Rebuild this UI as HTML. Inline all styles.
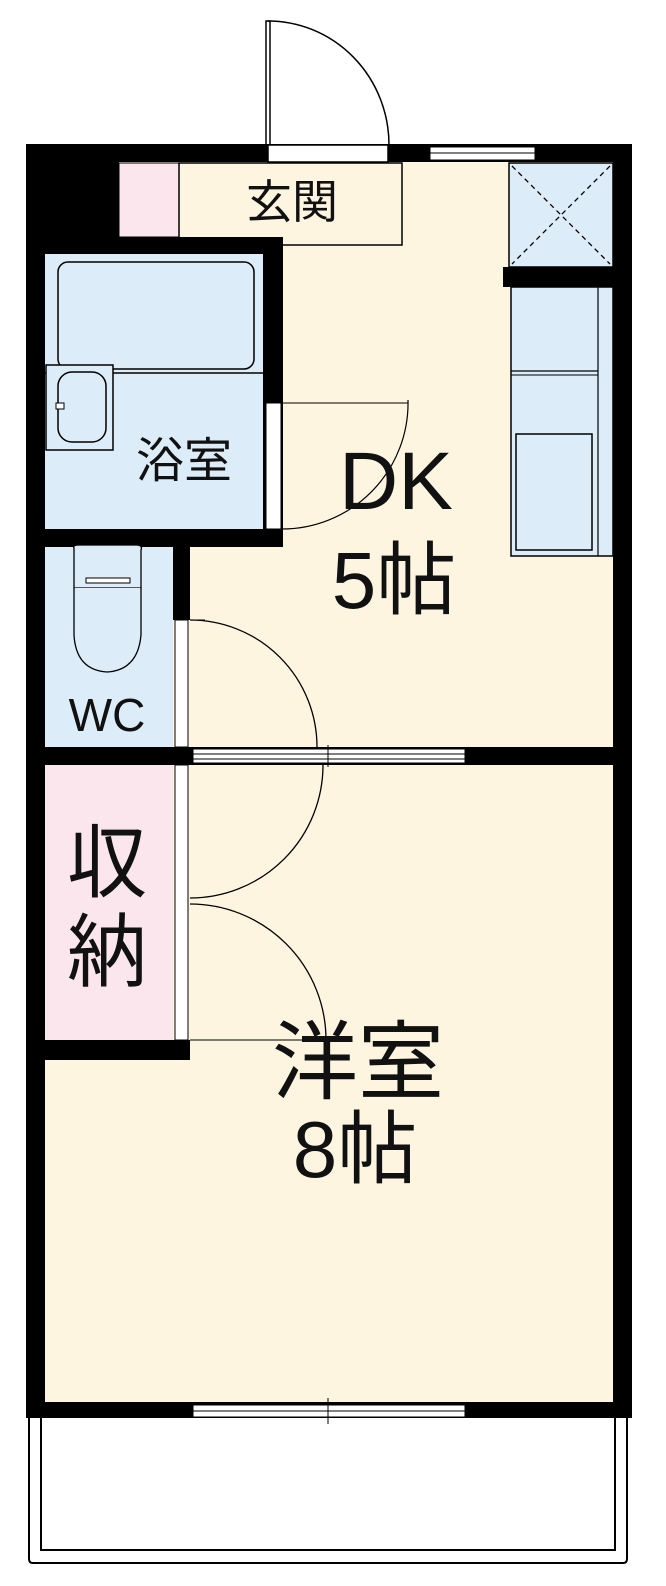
<!DOCTYPE html>
<html><head><meta charset="utf-8"><style>
html,body{margin:0;padding:0;background:#fff}
svg{display:block}
text{font-family:"Liberation Sans","Noto Sans CJK JP",sans-serif;fill:#111}
</style></head><body>
<svg width="666" height="1586" viewBox="0 0 666 1586" xmlns="http://www.w3.org/2000/svg">
<!-- floors -->
<rect x="45" y="162" width="568" height="1240" fill="#fdf5e0"/>
<!-- entry door -->
<rect x="266" y="21" width="4" height="124" fill="#fff" stroke="#000" stroke-width="1.5"/>
<path d="M268 21 A121 124 0 0 1 389 145" fill="none" stroke="#000" stroke-width="1.5"/>
<!-- outer walls -->
<rect x="26" y="144" width="606" height="18" fill="#000"/>
<rect x="26" y="144" width="19" height="1274" fill="#000"/>
<rect x="613" y="144" width="19" height="1274" fill="#000"/>
<rect x="26" y="1402" width="606" height="16" fill="#000"/>
<!-- top openings -->
<rect x="268" y="145" width="120" height="17" fill="#fff" stroke="#000" stroke-width="1.5"/>
<rect x="430" y="147" width="105" height="13" fill="#fff" stroke="#000" stroke-width="1"/>
<line x1="430" y1="153" x2="535" y2="153" stroke="#000" stroke-width="1"/>
<!-- corner block -->
<rect x="26" y="144" width="93" height="110" fill="#000"/>
<!-- entry -->
<rect x="119" y="163" width="60" height="74" fill="#fbe6ee" stroke="#000" stroke-width="1"/>
<rect x="179" y="163" width="223" height="82" fill="#fdf5e0" stroke="#000" stroke-width="1.5"/>
<text x="292" y="218" font-size="46" text-anchor="middle">玄関</text>
<!-- bath -->
<rect x="26" y="237" width="257" height="310" fill="#000"/>
<rect x="45" y="254" width="218" height="275" fill="#dcecf8"/>
<rect x="58" y="262" width="196" height="107" rx="10" fill="#dcecf8" stroke="#000" stroke-width="1.5"/>
<line x1="45" y1="373" x2="263" y2="373" stroke="#000" stroke-width="1.5"/>
<rect x="46" y="365" width="67" height="85" fill="#dcecf8" stroke="#000" stroke-width="1.5"/>
<rect x="58" y="372" width="48" height="70" rx="14" fill="#dcecf8" stroke="#000" stroke-width="1.5"/>
<rect x="56" y="403" width="8" height="6" fill="#fff" stroke="#000" stroke-width="1"/>
<text x="184" y="477" font-size="48" text-anchor="middle">浴室</text>
<rect x="266" y="403" width="15" height="126" fill="#fff" stroke="#000" stroke-width="1"/>
<line x1="282" y1="403" x2="408" y2="403" stroke="#000" stroke-width="1"/>
<path d="M408 400 A126 126 0 0 1 282 529" fill="none" stroke="#000" stroke-width="1.2"/>
<!-- closet X -->
<rect x="509" y="163" width="104" height="104" fill="#dcecf8" stroke="#000" stroke-width="1.5"/>
<path d="M512 166 L610 264 M610 166 L512 264" stroke="#000" stroke-width="1.3" stroke-dasharray="5,4"/>
<rect x="503" y="267" width="110" height="20" fill="#000"/>
<!-- counter -->
<rect x="511" y="287" width="102" height="269" fill="#dcecf8" stroke="#000" stroke-width="1.5"/>
<line x1="598" y1="287" x2="598" y2="556" stroke="#000" stroke-width="1.2"/>
<line x1="511" y1="371" x2="598" y2="371" stroke="#000" stroke-width="1.2"/>
<line x1="511" y1="375" x2="598" y2="375" stroke="#000" stroke-width="1"/>
<rect x="516" y="434" width="76" height="116" fill="#dcecf8" stroke="#000" stroke-width="1.5"/>
<!-- DK label -->
<text x="396" y="509" font-size="82" text-anchor="middle">DK</text>
<text x="394" y="608" font-size="80" text-anchor="middle">5帖</text>
<!-- WC -->
<rect x="45" y="547" width="128" height="200" fill="#dcecf8"/>
<rect x="173" y="545" width="17" height="75" fill="#000"/>
<rect x="175" y="620" width="13" height="127" fill="#fff" stroke="#000" stroke-width="1"/>
<path d="M74 548 Q72 545 80 545 L136 545 Q143 545 141 550 L141 588 L74 588 Z" fill="#dcecf8" stroke="#000" stroke-width="1.3"/>
<rect x="86" y="578" width="44" height="5" fill="#fff" stroke="#000" stroke-width="1"/>
<path d="M74 588 L74 635 Q76 670 107 672 Q138 670 141 635 L141 588" fill="#dcecf8" stroke="#000" stroke-width="1.3"/>
<text x="107" y="731" font-size="46" text-anchor="middle">WC</text>
<line x1="190" y1="620" x2="205" y2="620" stroke="#000" stroke-width="1"/>
<path d="M190 620 A127 127 0 0 1 317 747" fill="none" stroke="#000" stroke-width="1.3"/>
<!-- middle wall -->
<rect x="26" y="747" width="606" height="18" fill="#000"/>
<rect x="193" y="749" width="272" height="14" fill="#fff" stroke="#000" stroke-width="1"/>
<line x1="193" y1="754" x2="465" y2="754" stroke="#000" stroke-width="1"/>
<line x1="193" y1="759" x2="465" y2="759" stroke="#000" stroke-width="1"/>
<line x1="328" y1="745" x2="328" y2="767" stroke="#000" stroke-width="1"/>
<!-- storage -->
<rect x="45" y="765" width="128" height="275" fill="#fbe6ee"/>
<rect x="175" y="765" width="13" height="275" fill="#fff" stroke="#000" stroke-width="1"/>
<text x="107" y="891" font-size="80" text-anchor="middle">収</text>
<text x="107" y="980" font-size="80" text-anchor="middle">納</text>
<path d="M323 765 A133 133 0 0 1 190 898" fill="none" stroke="#000" stroke-width="1.3"/>
<path d="M190 904 A136 136 0 0 1 326 1040" fill="none" stroke="#000" stroke-width="1.3"/>
<line x1="190" y1="1040" x2="326" y2="1040" stroke="#000" stroke-width="1"/>
<rect x="26" y="1040" width="164" height="20" fill="#000"/>
<!-- western room -->
<text x="358" y="1092" font-size="86" text-anchor="middle">洋室</text>
<text x="355" y="1177" font-size="80" text-anchor="middle">8帖</text>
<!-- bottom window -->
<rect x="193" y="1405" width="272" height="12" fill="#fff" stroke="#000" stroke-width="1"/>
<line x1="193" y1="1411" x2="465" y2="1411" stroke="#000" stroke-width="1"/>
<line x1="328" y1="1398" x2="328" y2="1424" stroke="#000" stroke-width="1"/>
<!-- balcony -->
<path d="M29 1418 L29 1559 Q29 1563 33 1563 L623 1563 Q627 1563 627 1559 L627 1418" fill="none" stroke="#000" stroke-width="2"/>
<path d="M41 1418 L41 1550 L615 1550 L615 1418" fill="none" stroke="#000" stroke-width="2"/>
</svg>
</body></html>
